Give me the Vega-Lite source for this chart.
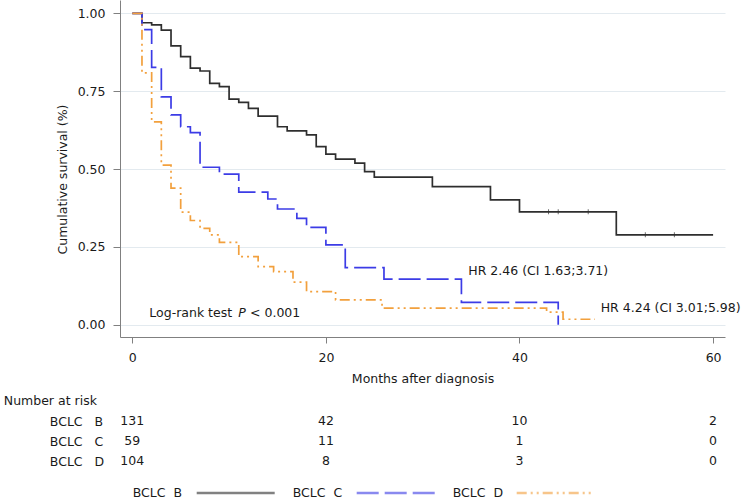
{
  "$schema": "https://vega.github.io/schema/vega-lite/v6.json",
  "autosize": {"type": "none"},
  "padding": {"left": 120, "top": 0, "right": 24, "bottom": 165},
  "width": 605,
  "height": 337,
  "config": {
    "font": "DejaVu Sans",
    "view": {"stroke": null},
    "axis": {
      "labelFontSize": 12.5,
      "titleFontSize": 12.5,
      "titleFontWeight": "normal",
      "labelColor": "#1a1a1a",
      "titleColor": "#1a1a1a",
      "domainColor": "#808080",
      "tickColor": "#808080"
    },
    "text": {"fontSize": 12.5, "color": "#1a1a1a"}
  },
  "datasets": {
    "km": [
      {"group": "BCLC B", "month": 0, "surv": 1.0},
      {"group": "BCLC B", "month": 1, "surv": 0.970},
      {"group": "BCLC B", "month": 2, "surv": 0.963},
      {"group": "BCLC B", "month": 3, "surv": 0.946},
      {"group": "BCLC B", "month": 4, "surv": 0.896},
      {"group": "BCLC B", "month": 5, "surv": 0.861},
      {"group": "BCLC B", "month": 6, "surv": 0.824},
      {"group": "BCLC B", "month": 7, "surv": 0.815},
      {"group": "BCLC B", "month": 8, "surv": 0.775},
      {"group": "BCLC B", "month": 9, "surv": 0.765},
      {"group": "BCLC B", "month": 10, "surv": 0.725},
      {"group": "BCLC B", "month": 11, "surv": 0.714},
      {"group": "BCLC B", "month": 12, "surv": 0.695},
      {"group": "BCLC B", "month": 13, "surv": 0.670},
      {"group": "BCLC B", "month": 15, "surv": 0.636},
      {"group": "BCLC B", "month": 16, "surv": 0.623},
      {"group": "BCLC B", "month": 18, "surv": 0.610},
      {"group": "BCLC B", "month": 19, "surv": 0.572},
      {"group": "BCLC B", "month": 20, "surv": 0.548},
      {"group": "BCLC B", "month": 21, "surv": 0.532},
      {"group": "BCLC B", "month": 23, "surv": 0.519},
      {"group": "BCLC B", "month": 24, "surv": 0.492},
      {"group": "BCLC B", "month": 25, "surv": 0.474},
      {"group": "BCLC B", "month": 31, "surv": 0.444},
      {"group": "BCLC B", "month": 37, "surv": 0.401},
      {"group": "BCLC B", "month": 40, "surv": 0.363},
      {"group": "BCLC B", "month": 50, "surv": 0.289},
      {"group": "BCLC B", "month": 60, "surv": 0.289},
      {"group": "BCLC C", "month": 0, "surv": 1.0},
      {"group": "BCLC C", "month": 1, "surv": 0.948},
      {"group": "BCLC C", "month": 2, "surv": 0.827},
      {"group": "BCLC C", "month": 3, "surv": 0.732},
      {"group": "BCLC C", "month": 4, "surv": 0.674},
      {"group": "BCLC C", "month": 5, "surv": 0.636},
      {"group": "BCLC C", "month": 6, "surv": 0.617},
      {"group": "BCLC C", "month": 7, "surv": 0.506},
      {"group": "BCLC C", "month": 9, "surv": 0.484},
      {"group": "BCLC C", "month": 11, "surv": 0.426},
      {"group": "BCLC C", "month": 14, "surv": 0.404},
      {"group": "BCLC C", "month": 15, "surv": 0.372},
      {"group": "BCLC C", "month": 17, "surv": 0.342},
      {"group": "BCLC C", "month": 18, "surv": 0.313},
      {"group": "BCLC C", "month": 20, "surv": 0.257},
      {"group": "BCLC C", "month": 22, "surv": 0.184},
      {"group": "BCLC C", "month": 26, "surv": 0.147},
      {"group": "BCLC C", "month": 34, "surv": 0.072},
      {"group": "BCLC C", "month": 44, "surv": 0.0},
      {"group": "BCLC D", "month": 0, "surv": 1.0},
      {"group": "BCLC D", "month": 1, "surv": 0.809},
      {"group": "BCLC D", "month": 2, "surv": 0.652},
      {"group": "BCLC D", "month": 3, "surv": 0.513},
      {"group": "BCLC D", "month": 4, "surv": 0.439},
      {"group": "BCLC D", "month": 5, "surv": 0.362},
      {"group": "BCLC D", "month": 6, "surv": 0.335},
      {"group": "BCLC D", "month": 7, "surv": 0.310},
      {"group": "BCLC D", "month": 8, "surv": 0.289},
      {"group": "BCLC D", "month": 9, "surv": 0.265},
      {"group": "BCLC D", "month": 11, "surv": 0.219},
      {"group": "BCLC D", "month": 13, "surv": 0.187},
      {"group": "BCLC D", "month": 14.6, "surv": 0.171},
      {"group": "BCLC D", "month": 16.6, "surv": 0.137},
      {"group": "BCLC D", "month": 18, "surv": 0.107},
      {"group": "BCLC D", "month": 21, "surv": 0.080},
      {"group": "BCLC D", "month": 25.8, "surv": 0.054},
      {"group": "BCLC D", "month": 42.8, "surv": 0.041},
      {"group": "BCLC D", "month": 44.5, "surv": 0.018},
      {"group": "BCLC D", "month": 47.8, "surv": 0.018}
    ],
    "censor": [
      {"group": "BCLC B", "month": 43, "surv": 0.363},
      {"group": "BCLC B", "month": 44, "surv": 0.363},
      {"group": "BCLC B", "month": 47.1, "surv": 0.363},
      {"group": "BCLC B", "month": 53, "surv": 0.289},
      {"group": "BCLC B", "month": 56, "surv": 0.289}
    ],
    "risk": [
      {"group": "BCLC B", "month": 0, "n": 131},
      {"group": "BCLC B", "month": 20, "n": 42},
      {"group": "BCLC B", "month": 40, "n": 10},
      {"group": "BCLC B", "month": 60, "n": 2},
      {"group": "BCLC C", "month": 0, "n": 59},
      {"group": "BCLC C", "month": 20, "n": 11},
      {"group": "BCLC C", "month": 40, "n": 1},
      {"group": "BCLC C", "month": 60, "n": 0},
      {"group": "BCLC D", "month": 0, "n": 104},
      {"group": "BCLC D", "month": 20, "n": 8},
      {"group": "BCLC D", "month": 40, "n": 3},
      {"group": "BCLC D", "month": 60, "n": 0}
    ]
  },
  "layer": [
    {
      "layer": [
        {
          "data": {"name": "km"},
          "mark": {"type": "line", "interpolate": "step-after", "strokeWidth": 1.7},
          "encoding": {
            "x": {
              "field": "month", "type": "quantitative",
              "scale": {"domain": [-1.27, 61.23], "nice": false, "zero": false},
              "axis": {"values": [0, 20, 40, 60], "tickSize": 6, "labelPadding": 8, "grid": false,
                       "title": "Months after diagnosis", "titleY": 41.5, "titleBaseline": "middle"}
            },
            "y": {
              "field": "surv", "type": "quantitative",
              "scale": {"domain": [-0.039, 1.043], "nice": false, "zero": false},
              "axis": {"values": [0, 0.25, 0.5, 0.75, 1], "format": ".2f", "tickSize": 7, "labelPadding": 8,
                       "grid": true, "gridColor": "#e3eaef",
                       "title": "Cumulative survival (%)", "titleAngle": 270, "titleX": -58, "titleY": 179,
                       "titleAlign": "center", "titleBaseline": "middle"}
            },
            "color": {
              "field": "group", "type": "nominal",
              "scale": {"domain": ["BCLC B", "BCLC C", "BCLC D"], "range": ["#2e2e2e", "#3c3ce6", "#f2a03d"]},
              "legend": {
                "orient": "none", "legendX": 12.7, "legendY": 452.5, "direction": "horizontal", "columns": 3, "title": null,
                "symbolType": "stroke", "symbolSize": 6084, "symbolStrokeWidth": 2.5, "symbolOpacity": 0.6,
                "labelOffset": -143.5, "symbolOffset": 62.5, "columnPadding": 13, "padding": 0,
                "labelFontSize": 12.5, "labelColor": "#1a1a1a",
                "labelExpr": "replace(datum.label, ' ', '\u00a0\u00a0')"
              }
            },
            "strokeDash": {
              "field": "group", "type": "nominal",
              "scale": {"domain": ["BCLC B", "BCLC C", "BCLC D"], "range": [[1, 0], [22, 6], [10, 4, 2, 4, 2, 4]]},
              "legend": {
                "orient": "none", "legendX": 12.7, "legendY": 452.5, "direction": "horizontal", "columns": 3, "title": null,
                "symbolType": "stroke", "symbolSize": 6084, "symbolStrokeWidth": 2.5, "symbolOpacity": 0.6,
                "labelOffset": -143.5, "symbolOffset": 62.5, "columnPadding": 13, "padding": 0,
                "labelFontSize": 12.5, "labelColor": "#1a1a1a",
                "labelExpr": "replace(datum.label, ' ', '\u00a0\u00a0')"
              }
            }
          }
        },
        {
          "data": {"name": "censor"},
          "mark": {"type": "tick", "orient": "vertical", "size": 5, "thickness": 1, "color": "#2e2e2e"},
          "encoding": {
            "x": {"field": "month", "type": "quantitative"},
            "y": {"field": "surv", "type": "quantitative"}
          }
        },
        {
          "data": {"values": [{"note": "HR C"}]},
          "mark": {"type": "text", "text": "HR 2.46 (CI 1.63;3.71)", "align": "left", "baseline": "middle"},
          "encoding": {"x": {"datum": 34.71, "type": "quantitative"}, "y": {"datum": 0.173, "type": "quantitative"}}
        },
        {
          "data": {"values": [{"note": "HR D"}]},
          "mark": {"type": "text", "text": "HR 4.24 (CI 3.01;5.98)", "align": "left", "baseline": "middle"},
          "encoding": {"x": {"datum": 48.39, "type": "quantitative"}, "y": {"datum": 0.0555, "type": "quantitative"}}
        },
        {
          "data": {"values": [{"note": "log-rank"}]},
          "mark": {"type": "text", "text": "Log-rank test", "align": "left", "baseline": "middle"},
          "encoding": {"x": {"datum": 1.76, "type": "quantitative"}, "y": {"datum": 0.0375, "type": "quantitative"}}
        },
        {
          "data": {"values": [{"note": "P"}]},
          "mark": {"type": "text", "text": "P", "align": "left", "baseline": "middle", "fontStyle": "italic"},
          "encoding": {"x": {"datum": 10.95, "type": "quantitative"}, "y": {"datum": 0.0375, "type": "quantitative"}}
        },
        {
          "data": {"values": [{"note": "p value"}]},
          "mark": {"type": "text", "text": "< 0.001", "align": "left", "baseline": "middle"},
          "encoding": {"x": {"datum": 12.16, "type": "quantitative"}, "y": {"datum": 0.0375, "type": "quantitative"}}
        }
      ]
    },
    {
      "data": {"name": "risk"},
      "mark": {"type": "text", "align": "center", "baseline": "middle"},
      "encoding": {
        "x": {"field": "month", "type": "quantitative"},
        "y": {
          "field": "group", "type": "nominal",
          "scale": {"domain": ["BCLC B", "BCLC C", "BCLC D"], "range": [421, 461], "padding": 0},
          "axis": {
            "orient": "left", "domain": false, "ticks": false, "tickSize": 0, "grid": false,
            "labelAlign": "left", "labelBaseline": "middle", "labelPadding": 70.7,
            "labelExpr": "replace(datum.label, ' ', '\u00a0\u00a0\u00a0')",
            "title": "Number at risk", "titleAngle": 0, "titleAlign": "left", "titleBaseline": "middle",
            "titleX": -116.7, "titleY": 400.7
          }
        },
        "text": {"field": "n", "type": "quantitative"}
      }
    }
  ],
  "resolve": {"scale": {"y": "independent"}, "axis": {"y": "independent"}}
}
